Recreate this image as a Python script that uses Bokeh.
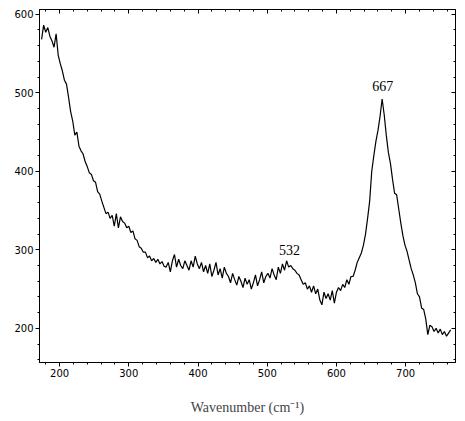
from bokeh.plotting import figure
from bokeh.models import (LinearAxis, Range1d, SingleIntervalTicker, Label, ColumnDataSource,
                          CustomLabelingPolicy)
from bokeh.embed import file_html
from bokeh.resources import INLINE

# Raman spectrum, sampled every 3 cm^-1 from 174 to 765
wavenumber = list(range(174, 766, 3))
intensity = [
    568, 586, 577, 583, 572, 566, 558, 575, 548, 537,
    528, 516, 511, 494, 476, 464, 446, 450, 432, 426,
    422, 412, 406, 398, 396, 388, 386, 374, 371, 362,
    354, 346, 348, 340, 344, 330, 346, 328, 342, 336,
    334, 328, 330, 322, 324, 314, 312, 304, 302, 297,
    297, 290, 292, 286, 289, 284, 288, 282, 285, 279,
    278, 284, 272, 286, 294, 278, 288, 280, 276, 286,
    280, 274, 286, 278, 292, 282, 276, 284, 272, 280,
    270, 282, 266, 274, 284, 268, 276, 264, 278, 270,
    266, 258, 270, 262, 255, 266, 260, 252, 264, 256,
    262, 250, 258, 268, 254, 262, 272, 258, 266, 270,
    264, 276, 268, 262, 278, 270, 282, 274, 286, 278,
    280, 276, 274, 270, 268, 262, 256, 258, 250, 254,
    246, 254, 244, 250, 236, 230, 246, 238, 244, 236,
    248, 232, 246, 252, 248, 256, 252, 262, 256, 266,
    266, 274, 284, 290, 296, 306, 320, 340, 362, 400,
    420, 438, 452, 470, 492, 472, 446, 424, 410, 390,
    372, 370, 352, 334, 318, 306, 298, 287, 276, 268,
    258, 244, 240, 226, 224, 212, 192, 204, 202, 196,
    200, 194, 199, 192, 196, 190, 194, 198,
]
assert len(wavenumber) == len(intensity)

peak_labels = ["532", "667"]
peak_x = [532, 667]
peak_y = [300, 508]

p = figure(width=460, height=418, x_range=Range1d(171, 772), y_range=Range1d(156.5, 606),
           output_backend="svg", toolbar_location=None,
           min_border_left=39, min_border_right=3, min_border_top=9, min_border_bottom=56)
p.xgrid.visible = False
p.ygrid.visible = False
p.outline_line_color = "black"
p.outline_line_width = 1

tick_font = "DejaVu Sans"

for ax in (p.xaxis[0], p.yaxis[0]):
    ax.ticker = SingleIntervalTicker(interval=100, num_minor_ticks=5)
    ax.major_tick_out = 4
    ax.major_tick_in = 0
    ax.minor_tick_out = 2
    ax.minor_tick_in = 0
    ax.axis_line_color = "black"
    ax.major_tick_line_color = "black"
    ax.minor_tick_line_color = "black"
    ax.major_label_text_font = tick_font
    ax.major_label_text_font_size = "10px"
    ax.major_label_text_color = "black"
    ax.major_label_standoff = 2

p.xaxis.axis_label = "Wavenumber (cm\u207b\u00b9)"
p.xaxis.axis_label_text_font = "Liberation Serif"
p.xaxis.axis_label_text_font_size = "14px"
p.xaxis.axis_label_text_font_style = "normal"
p.xaxis.axis_label_standoff = 20


def tick_only_axis():
    return LinearAxis(ticker=SingleIntervalTicker(interval=100, num_minor_ticks=5),
                      major_label_policy=CustomLabelingPolicy(code="return []"),
                      major_label_standoff=0, major_label_text_font_size="1px",
                      major_tick_in=4, major_tick_out=0, minor_tick_in=2, minor_tick_out=0,
                      axis_line_color="black")


p.add_layout(tick_only_axis(), "above")
p.add_layout(tick_only_axis(), "right")

src = ColumnDataSource(dict(x=wavenumber, y=intensity))
p.line("x", "y", source=src, line_color="black", line_width=1.2)

for t, xx, yy in zip(peak_labels, peak_x, peak_y):
    p.add_layout(Label(x=xx, y=yy, text=t, text_font="Liberation Serif", text_font_size="14px",
                       text_align="center", text_baseline="middle", text_color="black"))

open("out.html", "w").write(file_html(p, INLINE))
